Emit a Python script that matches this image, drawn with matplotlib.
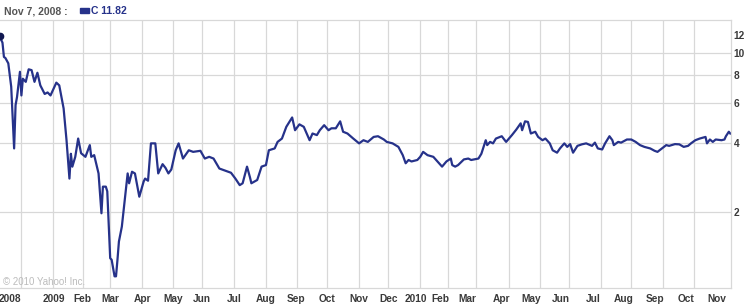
import pandas as pd
import matplotlib
matplotlib.use("Agg")
import matplotlib.pyplot as plt
import matplotlib.transforms as mtransforms
from matplotlib.patches import Rectangle

# closing prices (log scale), trading days only on x
dates = [
    "2008-11-07", "2008-11-11", "2008-11-12", "2008-11-13", "2008-11-17", "2008-11-19",
    "2008-11-21", "2008-11-24", "2008-11-25", "2008-11-28", "2008-12-01", "2008-12-02",
    "2008-12-04", "2008-12-08", "2008-12-10", "2008-12-12", "2008-12-16", "2008-12-18",
    "2008-12-23", "2008-12-26", "2008-12-30", "2009-01-06", "2009-01-08", "2009-01-13",
    "2009-01-15", "2009-01-20", "2009-01-21", "2009-01-22", "2009-01-26", "2009-01-28",
    "2009-01-30", "2009-02-04", "2009-02-09", "2009-02-10", "2009-02-12", "2009-02-18",
    "2009-02-20", "2009-02-23", "2009-02-25", "2009-02-26", "2009-03-02", "2009-03-03",
    "2009-03-05", "2009-03-06", "2009-03-09", "2009-03-10", "2009-03-12", "2009-03-16",
    "2009-03-18", "2009-03-19", "2009-03-23", "2009-03-25", "2009-03-30", "2009-04-02",
    "2009-04-03", "2009-04-07", "2009-04-09", "2009-04-15", "2009-04-17", "2009-04-22",
    "2009-04-24", "2009-04-28", "2009-04-30", "2009-05-05", "2009-05-07", "2009-05-12",
    "2009-05-18", "2009-05-21", "2009-05-29", "2009-06-03", "2009-06-08", "2009-06-11",
    "2009-06-17", "2009-06-22", "2009-06-29", "2009-07-02", "2009-07-08", "2009-07-10",
    "2009-07-15", "2009-07-17", "2009-07-20", "2009-07-24", "2009-07-29", "2009-08-03",
    "2009-08-05", "2009-08-11", "2009-08-13", "2009-08-18", "2009-08-21", "2009-08-27",
    "2009-08-31", "2009-09-03", "2009-09-09", "2009-09-15", "2009-09-17", "2009-09-22",
    "2009-09-24", "2009-09-29", "2009-10-02", "2009-10-06", "2009-10-09", "2009-10-14",
    "2009-10-16", "2009-10-21", "2009-10-27", "2009-11-02", "2009-11-05", "2009-11-10",
    "2009-11-16", "2009-11-19", "2009-11-25", "2009-11-30", "2009-12-04", "2009-12-10",
    "2009-12-15", "2009-12-17", "2009-12-21", "2009-12-23", "2009-12-30", "2010-01-04",
    "2010-01-06", "2010-01-11", "2010-01-15", "2010-01-22", "2010-01-26", "2010-01-29",
    "2010-02-03", "2010-02-04", "2010-02-08", "2010-02-10", "2010-02-17", "2010-02-22",
    "2010-02-24", "2010-03-03", "2010-03-05", "2010-03-10", "2010-03-11", "2010-03-15",
    "2010-03-17", "2010-03-19", "2010-03-25", "2010-03-30", "2010-04-06", "2010-04-09",
    "2010-04-14", "2010-04-15", "2010-04-19", "2010-04-21", "2010-04-23", "2010-04-28",
    "2010-04-30", "2010-05-05", "2010-05-07", "2010-05-12", "2010-05-14", "2010-05-19",
    "2010-05-21", "2010-05-26", "2010-05-28", "2010-06-02", "2010-06-04", "2010-06-09",
    "2010-06-14", "2010-06-17", "2010-06-23", "2010-06-25", "2010-06-29", "2010-07-02",
    "2010-07-07", "2010-07-12", "2010-07-14", "2010-07-15", "2010-07-20", "2010-07-22",
    "2010-07-28", "2010-08-02", "2010-08-05", "2010-08-10", "2010-08-13", "2010-08-19",
    "2010-08-24", "2010-08-26", "2010-08-31", "2010-09-03", "2010-09-08", "2010-09-14",
    "2010-09-17", "2010-09-22", "2010-09-27", "2010-09-29", "2010-10-04", "2010-10-07",
    "2010-10-13", "2010-10-14", "2010-10-18", "2010-10-20", "2010-10-22", "2010-10-28",
    "2010-11-01", "2010-11-02", "2010-11-04", "2010-11-05",
]
prices = [
    11.82, 11.1, 9.6, 9.5, 9.0, 7.1,
    3.8, 5.9, 6.4, 8.26, 6.5, 7.7,
    7.46, 8.47, 8.4, 7.46, 8.18, 7.2,
    6.6, 6.7, 6.5, 7.4, 7.2, 5.7,
    4.13, 2.8, 3.6, 3.16, 3.49, 4.2,
    3.62, 3.49, 3.93, 3.49, 3.55, 2.95,
    1.97, 2.58, 2.58, 2.46, 1.25, 1.23,
    1.04, 1.04, 1.23, 1.48, 1.72, 2.25,
    2.95, 2.67, 3.0, 2.95, 2.33, 2.72,
    2.8, 2.74, 4.0, 4.0, 2.95, 3.24,
    3.12, 2.95, 3.07, 3.73, 4.0, 3.43,
    3.73, 3.67, 3.71, 3.43, 3.49, 3.43,
    3.1, 3.05, 2.97, 2.8, 2.62, 2.67,
    3.16, 2.84, 2.67, 2.76, 3.16, 3.21,
    3.73, 3.8, 4.06, 4.2, 4.73, 5.2,
    4.57, 4.85, 4.73, 4.13, 4.42, 4.35,
    4.57, 4.81, 4.57, 4.66, 4.66, 5.0,
    4.5, 4.42, 4.2, 4.0, 4.13, 4.06,
    4.27, 4.3, 4.16, 4.06, 4.0, 3.86,
    3.55, 3.27, 3.38, 3.33, 3.38, 3.49,
    3.67, 3.55, 3.49, 3.27, 3.16, 3.33,
    3.43, 3.21, 3.16, 3.21, 3.40, 3.43,
    3.38, 3.43, 3.6, 4.13, 3.93, 4.06,
    4.0, 4.2, 4.3, 4.06, 4.35, 4.6,
    4.9, 4.57, 5.0, 4.97, 4.42, 4.5,
    4.27, 4.13, 4.2, 4.0, 3.73, 3.64,
    3.8, 4.0, 3.86, 3.97, 3.64, 3.9,
    3.96, 4.0, 3.9, 4.03, 3.8, 3.76,
    4.0, 4.3, 4.13, 3.93, 4.06, 4.03,
    4.16, 4.16, 4.06, 3.93, 3.86, 3.8,
    3.71, 3.67, 3.8, 3.93, 3.9, 3.97,
    3.96, 3.86, 3.9, 4.0, 4.13, 4.2,
    4.27, 4.0, 4.16, 4.06, 4.16, 4.13,
    4.16, 4.3, 4.5, 4.42,
]
month_labels = ["2008", "2009", "Feb", "Mar", "Apr", "May", "Jun", "Jul", "Aug", "Sep",
                "Oct", "Nov", "Dec", "2010", "Feb", "Mar", "Apr", "May", "Jun", "Jul",
                "Aug", "Sep", "Oct", "Nov"]
price_ticks = [2, 4, 6, 8, 10, 12]
holidays = ["2008-11-27", "2008-12-25", "2009-01-01", "2009-01-19", "2009-02-16",
            "2009-04-10", "2009-05-25", "2009-07-03", "2009-09-07", "2009-11-26",
            "2009-12-25", "2010-01-01", "2010-01-18", "2010-02-15", "2010-04-02",
            "2010-05-31", "2010-07-05", "2010-09-06"]

LINE = "#26328a"
GRID = "#d8d8d8"
TXT = "#3a3a3a"
FONT = "Liberation Sans"

# Yahoo plots by trading session, so x = session number
sessions = pd.bdate_range("2008-11-07", "2010-11-12", freq="C", holidays=holidays)
x = sessions.searchsorted(pd.to_datetime(dates))
month_start = [0] + [i for i in range(1, len(sessions))
                     if sessions[i].month != sessions[i - 1].month]
tick_pos = month_start[1:1 + len(month_labels)]

fig = plt.figure(figsize=(7.44, 3.06), dpi=100)
W, H = 744, 306
ax = fig.add_axes([0, 1 - 288 / H, 731 / W, 268 / H])

ax.plot(x, prices, color=LINE, lw=1.6, solid_joinstyle="round")
ax.plot(x[0], prices[0], "o", color="#101850", ms=4.5, clip_on=False, zorder=5)

ax.set_yscale("log")
ax.set_ylim(0.924, 13.96)
ax.set_xlim(0.3, 502.5)

ax.set_yticks(price_ticks)
ax.set_yticklabels([str(v) for v in price_ticks])
ax.yaxis.set_minor_locator(matplotlib.ticker.NullLocator())
ax.yaxis.tick_right()
ax.set_xticks(tick_pos)
ax.set_xticklabels(month_labels)
ax.tick_params(axis="both", length=0, labelsize=7.3, labelcolor=TXT)
ax.tick_params(axis="y", pad=2)
ax.tick_params(axis="x", pad=4)
for lab in ax.get_xticklabels() + ax.get_yticklabels():
    lab.set_fontweight("bold")
    lab.set_fontfamily(FONT)

xlabs = ax.get_xticklabels()
xlabs[0].set_horizontalalignment("right")
# the 2010 month names sit a little left of their grid lines in the original
for i, lab in enumerate(xlabs):
    if i >= 13:
        dx = -4 if i == 13 else -8
        lab.set_transform(lab.get_transform() +
                          mtransforms.ScaledTranslation(dx / 100, 0, fig.dpi_scale_trans))

ax.grid(True, color=GRID, lw=0.9)
ax.yaxis.get_gridlines()[-1].set_visible(False)
ax.xaxis.get_gridlines()[-1].set_visible(False)
ax.set_axisbelow(True)
ax.spines["left"].set_visible(False)
for side in ["top", "bottom", "right"]:
    ax.spines[side].set_color(GRID)
    ax.spines[side].set_linewidth(0.9)

ax.text(3 / 731, 0.012, "\u00a9 2010 Yahoo! Inc.", transform=ax.transAxes,
        fontsize=7, color="#bcbcbc", family=FONT)

# header
fig.text(4 / W, 1 - 11 / H, "Nov 7, 2008 :", fontsize=7.5, fontweight="bold",
         color="#555555", va="center", family=FONT)
fig.patches.append(Rectangle((80 / W, 1 - 13 / H), 9 / W, 5 / H, color=LINE,
                             transform=fig.transFigure))
fig.text(91 / W, 1 - 11 / H, "C 11.82", fontsize=7.5, fontweight="bold",
         color=LINE, va="center", family=FONT)

fig.savefig("out.png", dpi=100)
